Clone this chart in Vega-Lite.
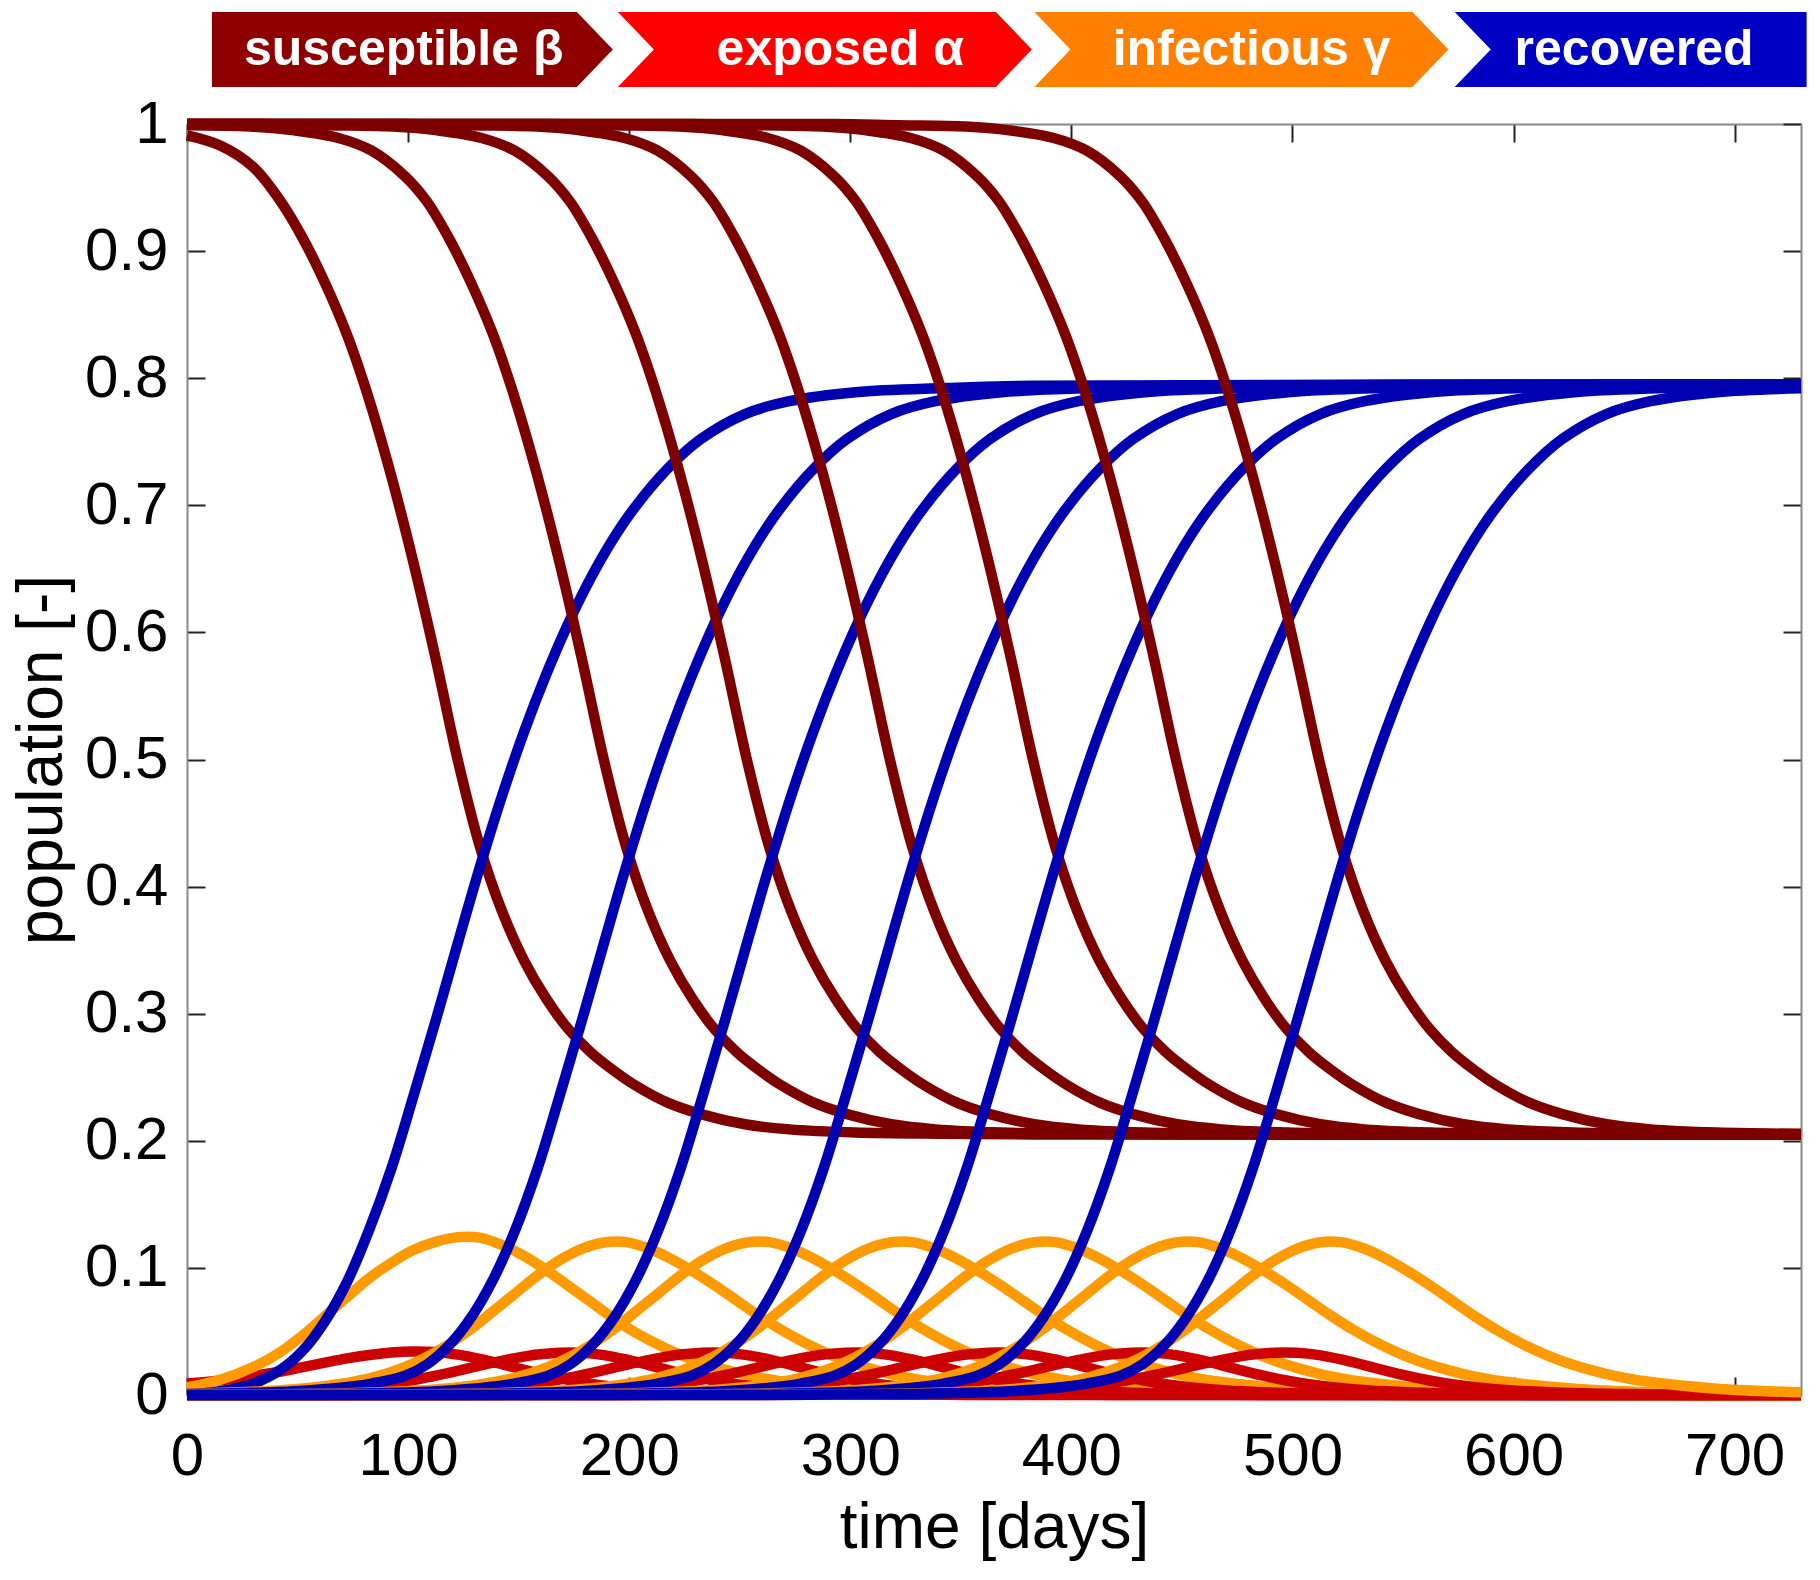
{
"$schema":"https://vega.github.io/schema/vega-lite/v6.json",
"width":1614,"height":1271,
"autosize":{"type":"none"},
"padding":{"left":187,"top":124,"right":19,"bottom":185},
"background":"white",
"config":{"view":{"stroke":null},"font":"Liberation Sans"},
"resolve":{"scale":{"color":"independent","shape":"independent"},"axis":{"x":"independent","y":"independent"}},
"layer":[
{
"data":{"values":[
{"run":1,"t":0,"S":0.991,"E":0.009,"I":0.006,"R":0},
{"run":1,"t":15,"S":0.983,"E":0.0115,"I":0.012,"R":0.003},
{"run":1,"t":30,"S":0.966,"E":0.015,"I":0.022,"R":0.009},
{"run":1,"t":42.4,"S":0.939,"E":0.0185,"I":0.034,"R":0.020},
{"run":1,"t":52.4,"S":0.910,"E":0.022,"I":0.047,"R":0.035},
{"run":1,"t":62.4,"S":0.875,"E":0.0255,"I":0.062,"R":0.058},
{"run":1,"t":72.4,"S":0.834,"E":0.0288,"I":0.077,"R":0.089},
{"run":1,"t":82.4,"S":0.783,"E":0.0315,"I":0.092,"R":0.130},
{"run":1,"t":92.4,"S":0.723,"E":0.0335,"I":0.104,"R":0.178},
{"run":1,"t":102.4,"S":0.655,"E":0.0343,"I":0.114,"R":0.235},
{"run":1,"t":112.4,"S":0.580,"E":0.0338,"I":0.1205,"R":0.294},
{"run":1,"t":122.4,"S":0.500,"E":0.0318,"I":0.1242,"R":0.355},
{"run":1,"t":132.4,"S":0.432,"E":0.0285,"I":0.1238,"R":0.415},
{"run":1,"t":142.4,"S":0.381,"E":0.0243,"I":0.118,"R":0.471},
{"run":1,"t":152.4,"S":0.342,"E":0.0198,"I":0.1095,"R":0.5215},
{"run":1,"t":162.4,"S":0.312,"E":0.0156,"I":0.0985,"R":0.5666},
{"run":1,"t":172.4,"S":0.288,"E":0.0119,"I":0.086,"R":0.6068},
{"run":1,"t":182.4,"S":0.270,"E":0.0089,"I":0.0735,"R":0.6421},
{"run":1,"t":192.4,"S":0.256,"E":0.0066,"I":0.061,"R":0.6725},
{"run":1,"t":202.4,"S":0.244,"E":0.0048,"I":0.0495,"R":0.698},
{"run":1,"t":217.4,"S":0.230,"E":0.0031,"I":0.036,"R":0.7288},
{"run":1,"t":232.4,"S":0.221,"E":0.0019,"I":0.0255,"R":0.7521},
{"run":1,"t":252.4,"S":0.213,"E":0.001,"I":0.016,"R":0.7718},
{"run":1,"t":272.4,"S":0.209,"E":0.0005,"I":0.0098,"R":0.7819},
{"run":1,"t":302.4,"S":0.2065,"E":0.0002,"I":0.0048,"R":0.789},
{"run":1,"t":342.4,"S":0.2055,"E":0.0001,"I":0.0019,"R":0.7922},
{"run":1,"t":382.4,"S":0.205,"E":0,"I":0.0007,"R":0.794},
{"run":1,"t":730,"S":0.205,"E":0,"I":0,"R":0.795},

{"run":2,"t":0,"S":0.999,"E":0.0005,"I":0.001,"R":0.0007},
{"run":2,"t":28.5,"S":0.998,"E":0.0013,"I":0.0025,"R":0.0017},
{"run":2,"t":48.5,"S":0.995,"E":0.0025,"I":0.0045,"R":0.003},
{"run":2,"t":68.5,"S":0.989,"E":0.0045,"I":0.0085,"R":0.0055},
{"run":2,"t":83.5,"S":0.979,"E":0.0068,"I":0.0135,"R":0.009},
{"run":2,"t":98.5,"S":0.959,"E":0.0105,"I":0.022,"R":0.015},
{"run":2,"t":108.5,"S":0.939,"E":0.0138,"I":0.030,"R":0.024},
{"run":2,"t":118.5,"S":0.910,"E":0.0175,"I":0.040,"R":0.039},
{"run":2,"t":128.5,"S":0.875,"E":0.0215,"I":0.052,"R":0.061},
{"run":2,"t":138.5,"S":0.834,"E":0.0255,"I":0.066,"R":0.091},
{"run":2,"t":148.5,"S":0.783,"E":0.029,"I":0.080,"R":0.130},
{"run":2,"t":158.5,"S":0.723,"E":0.0318,"I":0.094,"R":0.178},
{"run":2,"t":168.5,"S":0.655,"E":0.0333,"I":0.106,"R":0.235},
{"run":2,"t":178.5,"S":0.580,"E":0.0332,"I":0.115,"R":0.294},
{"run":2,"t":188.5,"S":0.500,"E":0.0314,"I":0.120,"R":0.355},
{"run":2,"t":198.5,"S":0.432,"E":0.028,"I":0.1203,"R":0.415},
{"run":2,"t":208.5,"S":0.381,"E":0.0237,"I":0.1155,"R":0.471},
{"run":2,"t":218.5,"S":0.342,"E":0.0192,"I":0.1075,"R":0.5215},
{"run":2,"t":228.5,"S":0.312,"E":0.015,"I":0.0975,"R":0.5666},
{"run":2,"t":238.5,"S":0.288,"E":0.0114,"I":0.0865,"R":0.6068},
{"run":2,"t":248.5,"S":0.270,"E":0.0085,"I":0.0745,"R":0.6421},
{"run":2,"t":258.5,"S":0.256,"E":0.0063,"I":0.0625,"R":0.6725},
{"run":2,"t":268.5,"S":0.244,"E":0.0046,"I":0.0515,"R":0.698},
{"run":2,"t":283.5,"S":0.230,"E":0.0029,"I":0.0375,"R":0.7288},
{"run":2,"t":298.5,"S":0.221,"E":0.0018,"I":0.0265,"R":0.7521},
{"run":2,"t":318.5,"S":0.213,"E":0.001,"I":0.0165,"R":0.7718},
{"run":2,"t":338.5,"S":0.209,"E":0.0005,"I":0.0102,"R":0.7819},
{"run":2,"t":368.5,"S":0.2065,"E":0.0002,"I":0.005,"R":0.789},
{"run":2,"t":408.5,"S":0.2055,"E":0.0001,"I":0.002,"R":0.7922},
{"run":2,"t":448.5,"S":0.205,"E":0,"I":0.0008,"R":0.794},
{"run":2,"t":730,"S":0.205,"E":0,"I":0,"R":0.795},

{"run":3,"t":0,"S":1.0,"E":0,"I":0.0001,"R":0},
{"run":3,"t":33.2,"S":1.0,"E":0.0002,"I":0.0004,"R":0.0003},
{"run":3,"t":63.2,"S":0.999,"E":0.0005,"I":0.001,"R":0.0007},
{"run":3,"t":93.2,"S":0.998,"E":0.0013,"I":0.0025,"R":0.0017},
{"run":3,"t":113.2,"S":0.995,"E":0.0025,"I":0.0045,"R":0.003},
{"run":3,"t":133.2,"S":0.989,"E":0.0045,"I":0.0085,"R":0.0055},
{"run":3,"t":148.2,"S":0.979,"E":0.0068,"I":0.0135,"R":0.009},
{"run":3,"t":163.2,"S":0.959,"E":0.0105,"I":0.022,"R":0.015},
{"run":3,"t":173.2,"S":0.939,"E":0.0138,"I":0.030,"R":0.024},
{"run":3,"t":183.2,"S":0.910,"E":0.0175,"I":0.040,"R":0.039},
{"run":3,"t":193.2,"S":0.875,"E":0.0215,"I":0.052,"R":0.061},
{"run":3,"t":203.2,"S":0.834,"E":0.0255,"I":0.066,"R":0.091},
{"run":3,"t":213.2,"S":0.783,"E":0.029,"I":0.080,"R":0.130},
{"run":3,"t":223.2,"S":0.723,"E":0.0318,"I":0.094,"R":0.178},
{"run":3,"t":233.2,"S":0.655,"E":0.0333,"I":0.106,"R":0.235},
{"run":3,"t":243.2,"S":0.580,"E":0.0332,"I":0.115,"R":0.294},
{"run":3,"t":253.2,"S":0.500,"E":0.0314,"I":0.120,"R":0.355},
{"run":3,"t":263.2,"S":0.432,"E":0.028,"I":0.1203,"R":0.415},
{"run":3,"t":273.2,"S":0.381,"E":0.0237,"I":0.1155,"R":0.471},
{"run":3,"t":283.2,"S":0.342,"E":0.0192,"I":0.1075,"R":0.5215},
{"run":3,"t":293.2,"S":0.312,"E":0.015,"I":0.0975,"R":0.5666},
{"run":3,"t":303.2,"S":0.288,"E":0.0114,"I":0.0865,"R":0.6068},
{"run":3,"t":313.2,"S":0.270,"E":0.0085,"I":0.0745,"R":0.6421},
{"run":3,"t":323.2,"S":0.256,"E":0.0063,"I":0.0625,"R":0.6725},
{"run":3,"t":333.2,"S":0.244,"E":0.0046,"I":0.0515,"R":0.698},
{"run":3,"t":348.2,"S":0.230,"E":0.0029,"I":0.0375,"R":0.7288},
{"run":3,"t":363.2,"S":0.221,"E":0.0018,"I":0.0265,"R":0.7521},
{"run":3,"t":383.2,"S":0.213,"E":0.001,"I":0.0165,"R":0.7718},
{"run":3,"t":403.2,"S":0.209,"E":0.0005,"I":0.0102,"R":0.7819},
{"run":3,"t":433.2,"S":0.2065,"E":0.0002,"I":0.005,"R":0.789},
{"run":3,"t":473.2,"S":0.2055,"E":0.0001,"I":0.002,"R":0.7922},
{"run":3,"t":513.2,"S":0.205,"E":0,"I":0.0008,"R":0.794},
{"run":3,"t":730,"S":0.205,"E":0,"I":0,"R":0.795},

{"run":4,"t":0,"S":1.0,"E":0,"I":0,"R":0},
{"run":4,"t":57.9,"S":1.0,"E":0,"I":0.0001,"R":0},
{"run":4,"t":97.9,"S":1.0,"E":0.0002,"I":0.0004,"R":0.0003},
{"run":4,"t":127.9,"S":0.999,"E":0.0005,"I":0.001,"R":0.0007},
{"run":4,"t":157.9,"S":0.998,"E":0.0013,"I":0.0025,"R":0.0017},
{"run":4,"t":177.9,"S":0.995,"E":0.0025,"I":0.0045,"R":0.003},
{"run":4,"t":197.9,"S":0.989,"E":0.0045,"I":0.0085,"R":0.0055},
{"run":4,"t":212.9,"S":0.979,"E":0.0068,"I":0.0135,"R":0.009},
{"run":4,"t":227.9,"S":0.959,"E":0.0105,"I":0.022,"R":0.015},
{"run":4,"t":237.9,"S":0.939,"E":0.0138,"I":0.030,"R":0.024},
{"run":4,"t":247.9,"S":0.910,"E":0.0175,"I":0.040,"R":0.039},
{"run":4,"t":257.9,"S":0.875,"E":0.0215,"I":0.052,"R":0.061},
{"run":4,"t":267.9,"S":0.834,"E":0.0255,"I":0.066,"R":0.091},
{"run":4,"t":277.9,"S":0.783,"E":0.029,"I":0.080,"R":0.130},
{"run":4,"t":287.9,"S":0.723,"E":0.0318,"I":0.094,"R":0.178},
{"run":4,"t":297.9,"S":0.655,"E":0.0333,"I":0.106,"R":0.235},
{"run":4,"t":307.9,"S":0.580,"E":0.0332,"I":0.115,"R":0.294},
{"run":4,"t":317.9,"S":0.500,"E":0.0314,"I":0.120,"R":0.355},
{"run":4,"t":327.9,"S":0.432,"E":0.028,"I":0.1203,"R":0.415},
{"run":4,"t":337.9,"S":0.381,"E":0.0237,"I":0.1155,"R":0.471},
{"run":4,"t":347.9,"S":0.342,"E":0.0192,"I":0.1075,"R":0.5215},
{"run":4,"t":357.9,"S":0.312,"E":0.015,"I":0.0975,"R":0.5666},
{"run":4,"t":367.9,"S":0.288,"E":0.0114,"I":0.0865,"R":0.6068},
{"run":4,"t":377.9,"S":0.270,"E":0.0085,"I":0.0745,"R":0.6421},
{"run":4,"t":387.9,"S":0.256,"E":0.0063,"I":0.0625,"R":0.6725},
{"run":4,"t":397.9,"S":0.244,"E":0.0046,"I":0.0515,"R":0.698},
{"run":4,"t":412.9,"S":0.230,"E":0.0029,"I":0.0375,"R":0.7288},
{"run":4,"t":427.9,"S":0.221,"E":0.0018,"I":0.0265,"R":0.7521},
{"run":4,"t":447.9,"S":0.213,"E":0.001,"I":0.0165,"R":0.7718},
{"run":4,"t":467.9,"S":0.209,"E":0.0005,"I":0.0102,"R":0.7819},
{"run":4,"t":497.9,"S":0.2065,"E":0.0002,"I":0.005,"R":0.789},
{"run":4,"t":537.9,"S":0.2055,"E":0.0001,"I":0.002,"R":0.7922},
{"run":4,"t":577.9,"S":0.205,"E":0,"I":0.0008,"R":0.794},
{"run":4,"t":730,"S":0.205,"E":0,"I":0,"R":0.795},

{"run":5,"t":0,"S":1.0,"E":0,"I":0,"R":0},
{"run":5,"t":122.6,"S":1.0,"E":0,"I":0.0001,"R":0},
{"run":5,"t":162.6,"S":1.0,"E":0.0002,"I":0.0004,"R":0.0003},
{"run":5,"t":192.6,"S":0.999,"E":0.0005,"I":0.001,"R":0.0007},
{"run":5,"t":222.6,"S":0.998,"E":0.0013,"I":0.0025,"R":0.0017},
{"run":5,"t":242.6,"S":0.995,"E":0.0025,"I":0.0045,"R":0.003},
{"run":5,"t":262.6,"S":0.989,"E":0.0045,"I":0.0085,"R":0.0055},
{"run":5,"t":277.6,"S":0.979,"E":0.0068,"I":0.0135,"R":0.009},
{"run":5,"t":292.6,"S":0.959,"E":0.0105,"I":0.022,"R":0.015},
{"run":5,"t":302.6,"S":0.939,"E":0.0138,"I":0.030,"R":0.024},
{"run":5,"t":312.6,"S":0.910,"E":0.0175,"I":0.040,"R":0.039},
{"run":5,"t":322.6,"S":0.875,"E":0.0215,"I":0.052,"R":0.061},
{"run":5,"t":332.6,"S":0.834,"E":0.0255,"I":0.066,"R":0.091},
{"run":5,"t":342.6,"S":0.783,"E":0.029,"I":0.080,"R":0.130},
{"run":5,"t":352.6,"S":0.723,"E":0.0318,"I":0.094,"R":0.178},
{"run":5,"t":362.6,"S":0.655,"E":0.0333,"I":0.106,"R":0.235},
{"run":5,"t":372.6,"S":0.580,"E":0.0332,"I":0.115,"R":0.294},
{"run":5,"t":382.6,"S":0.500,"E":0.0314,"I":0.120,"R":0.355},
{"run":5,"t":392.6,"S":0.432,"E":0.028,"I":0.1203,"R":0.415},
{"run":5,"t":402.6,"S":0.381,"E":0.0237,"I":0.1155,"R":0.471},
{"run":5,"t":412.6,"S":0.342,"E":0.0192,"I":0.1075,"R":0.5215},
{"run":5,"t":422.6,"S":0.312,"E":0.015,"I":0.0975,"R":0.5666},
{"run":5,"t":432.6,"S":0.288,"E":0.0114,"I":0.0865,"R":0.6068},
{"run":5,"t":442.6,"S":0.270,"E":0.0085,"I":0.0745,"R":0.6421},
{"run":5,"t":452.6,"S":0.256,"E":0.0063,"I":0.0625,"R":0.6725},
{"run":5,"t":462.6,"S":0.244,"E":0.0046,"I":0.0515,"R":0.698},
{"run":5,"t":477.6,"S":0.230,"E":0.0029,"I":0.0375,"R":0.7288},
{"run":5,"t":492.6,"S":0.221,"E":0.0018,"I":0.0265,"R":0.7521},
{"run":5,"t":512.6,"S":0.213,"E":0.001,"I":0.0165,"R":0.7718},
{"run":5,"t":532.6,"S":0.209,"E":0.0005,"I":0.0102,"R":0.7819},
{"run":5,"t":562.6,"S":0.2065,"E":0.0002,"I":0.005,"R":0.789},
{"run":5,"t":602.6,"S":0.2055,"E":0.0001,"I":0.002,"R":0.7922},
{"run":5,"t":642.6,"S":0.205,"E":0,"I":0.0008,"R":0.794},
{"run":5,"t":730,"S":0.205,"E":0,"I":0.0001,"R":0.795},

{"run":6,"t":0,"S":1.0,"E":0,"I":0,"R":0},
{"run":6,"t":187.3,"S":1.0,"E":0,"I":0.0001,"R":0},
{"run":6,"t":227.3,"S":1.0,"E":0.0002,"I":0.0004,"R":0.0003},
{"run":6,"t":257.3,"S":0.999,"E":0.0005,"I":0.001,"R":0.0007},
{"run":6,"t":287.3,"S":0.998,"E":0.0013,"I":0.0025,"R":0.0017},
{"run":6,"t":307.3,"S":0.995,"E":0.0025,"I":0.0045,"R":0.003},
{"run":6,"t":327.3,"S":0.989,"E":0.0045,"I":0.0085,"R":0.0055},
{"run":6,"t":342.3,"S":0.979,"E":0.0068,"I":0.0135,"R":0.009},
{"run":6,"t":357.3,"S":0.959,"E":0.0105,"I":0.022,"R":0.015},
{"run":6,"t":367.3,"S":0.939,"E":0.0138,"I":0.030,"R":0.024},
{"run":6,"t":377.3,"S":0.910,"E":0.0175,"I":0.040,"R":0.039},
{"run":6,"t":387.3,"S":0.875,"E":0.0215,"I":0.052,"R":0.061},
{"run":6,"t":397.3,"S":0.834,"E":0.0255,"I":0.066,"R":0.091},
{"run":6,"t":407.3,"S":0.783,"E":0.029,"I":0.080,"R":0.130},
{"run":6,"t":417.3,"S":0.723,"E":0.0318,"I":0.094,"R":0.178},
{"run":6,"t":427.3,"S":0.655,"E":0.0333,"I":0.106,"R":0.235},
{"run":6,"t":437.3,"S":0.580,"E":0.0332,"I":0.115,"R":0.294},
{"run":6,"t":447.3,"S":0.500,"E":0.0314,"I":0.120,"R":0.355},
{"run":6,"t":457.3,"S":0.432,"E":0.028,"I":0.1203,"R":0.415},
{"run":6,"t":467.3,"S":0.381,"E":0.0237,"I":0.1155,"R":0.471},
{"run":6,"t":477.3,"S":0.342,"E":0.0192,"I":0.1075,"R":0.5215},
{"run":6,"t":487.3,"S":0.312,"E":0.015,"I":0.0975,"R":0.5666},
{"run":6,"t":497.3,"S":0.288,"E":0.0114,"I":0.0865,"R":0.6068},
{"run":6,"t":507.3,"S":0.270,"E":0.0085,"I":0.0745,"R":0.6421},
{"run":6,"t":517.3,"S":0.256,"E":0.0063,"I":0.0625,"R":0.6725},
{"run":6,"t":527.3,"S":0.244,"E":0.0046,"I":0.0515,"R":0.698},
{"run":6,"t":542.3,"S":0.230,"E":0.0029,"I":0.0375,"R":0.7288},
{"run":6,"t":557.3,"S":0.221,"E":0.0018,"I":0.0265,"R":0.7521},
{"run":6,"t":577.3,"S":0.213,"E":0.001,"I":0.0165,"R":0.7718},
{"run":6,"t":597.3,"S":0.209,"E":0.0005,"I":0.0102,"R":0.7819},
{"run":6,"t":627.3,"S":0.2065,"E":0.0002,"I":0.005,"R":0.789},
{"run":6,"t":667.3,"S":0.2055,"E":0.0001,"I":0.002,"R":0.7922},
{"run":6,"t":707.3,"S":0.205,"E":0,"I":0.0008,"R":0.794},
{"run":6,"t":730,"S":0.205,"E":0,"I":0.0005,"R":0.794},

{"run":7,"t":0,"S":1.0,"E":0,"I":0,"R":0},
{"run":7,"t":252,"S":1.0,"E":0,"I":0.0001,"R":0},
{"run":7,"t":292,"S":1.0,"E":0.0002,"I":0.0004,"R":0.0003},
{"run":7,"t":322,"S":0.999,"E":0.0005,"I":0.001,"R":0.0007},
{"run":7,"t":352,"S":0.998,"E":0.0013,"I":0.0025,"R":0.0017},
{"run":7,"t":372,"S":0.995,"E":0.0025,"I":0.0045,"R":0.003},
{"run":7,"t":392,"S":0.989,"E":0.0045,"I":0.0085,"R":0.0055},
{"run":7,"t":407,"S":0.979,"E":0.0068,"I":0.0135,"R":0.009},
{"run":7,"t":422,"S":0.959,"E":0.0105,"I":0.022,"R":0.015},
{"run":7,"t":432,"S":0.939,"E":0.0138,"I":0.030,"R":0.024},
{"run":7,"t":442,"S":0.910,"E":0.0175,"I":0.040,"R":0.039},
{"run":7,"t":452,"S":0.875,"E":0.0215,"I":0.052,"R":0.061},
{"run":7,"t":462,"S":0.834,"E":0.0255,"I":0.066,"R":0.091},
{"run":7,"t":472,"S":0.783,"E":0.029,"I":0.080,"R":0.130},
{"run":7,"t":482,"S":0.723,"E":0.0318,"I":0.094,"R":0.178},
{"run":7,"t":492,"S":0.655,"E":0.0333,"I":0.106,"R":0.235},
{"run":7,"t":502,"S":0.580,"E":0.0332,"I":0.115,"R":0.294},
{"run":7,"t":512,"S":0.500,"E":0.0314,"I":0.120,"R":0.355},
{"run":7,"t":522,"S":0.432,"E":0.028,"I":0.1203,"R":0.415},
{"run":7,"t":532,"S":0.381,"E":0.0237,"I":0.1155,"R":0.471},
{"run":7,"t":542,"S":0.342,"E":0.0192,"I":0.1075,"R":0.5215},
{"run":7,"t":552,"S":0.312,"E":0.015,"I":0.0975,"R":0.5666},
{"run":7,"t":562,"S":0.288,"E":0.0114,"I":0.0865,"R":0.6068},
{"run":7,"t":572,"S":0.270,"E":0.0085,"I":0.0745,"R":0.6421},
{"run":7,"t":582,"S":0.256,"E":0.0063,"I":0.0625,"R":0.6725},
{"run":7,"t":592,"S":0.244,"E":0.0046,"I":0.0515,"R":0.698},
{"run":7,"t":607,"S":0.230,"E":0.0029,"I":0.0375,"R":0.7288},
{"run":7,"t":622,"S":0.221,"E":0.0018,"I":0.0265,"R":0.7521},
{"run":7,"t":642,"S":0.213,"E":0.001,"I":0.0165,"R":0.7718},
{"run":7,"t":662,"S":0.209,"E":0.0005,"I":0.0102,"R":0.7819},
{"run":7,"t":692,"S":0.2065,"E":0.0002,"I":0.005,"R":0.789},
{"run":7,"t":730,"S":0.2055,"E":0.0001,"I":0.0021,"R":0.792}
]},
"transform":[{"fold":["S","E","I","R"],"as":["key","value"]}],
"mark":{"type":"line","strokeWidth":10.5,"interpolate":"catmull-rom","strokeCap":"butt","strokeJoin":"round"},
"encoding":{
"x":{"field":"t","type":"quantitative","scale":{"domain":[0,730],"nice":false,"zero":false},
"axis":{"orient":"bottom","values":[0,100,200,300,400,500,600,700],"format":"d","grid":false,"labelFontSize":60,"labelColor":"black","labelFont":"Liberation Sans","labelPadding":50,"labelFlush":false,"labelOverlap":false,"tickSize":-18,"tickWidth":2,"tickColor":"#222222","domainColor":"#888888","domainWidth":2,"title":"time [days]","titleFontSize":64,"titleFontWeight":"normal","titleColor":"black","titleFont":"Liberation Sans","titlePadding":10}},
"y":{"field":"value","type":"quantitative","scale":{"domain":[0,1],"nice":false,"zero":false},
"axis":{"orient":"left","values":[0,0.1,0.2,0.3,0.4,0.5,0.6,0.7,0.8,0.9,1],"format":".1~f","grid":false,"labelFontSize":60,"labelColor":"black","labelFont":"Liberation Sans","labelPadding":37,"labelFlush":false,"labelOverlap":false,"tickSize":-18,"tickWidth":2,"tickColor":"#222222","domainColor":"#888888","domainWidth":2,"title":"population [-]","titleFontSize":64,"titleFontWeight":"normal","titleColor":"black","titleFont":"Liberation Sans","titlePadding":10}},
"color":{"field":"key","type":"nominal","scale":{"domain":["S","E","I","R"],"range":["#7d0000","#cc0000","#ff9a00","#0000b0"]},"legend":null},
"detail":{"field":"run","type":"nominal"}
}
},
{
"data":{"values":[
{"part":"susceptible","t":104.9,"value":1.0586},
{"part":"exposed","t":288.5,"value":1.0586},
{"part":"infectious","t":476.9,"value":1.0586},
{"part":"recovered","t":667.0,"value":1.0586}
]},
"mark":{"type":"point","filled":true,"size":171396,"opacity":1,"strokeWidth":0},
"encoding":{
"x":{"field":"t","type":"quantitative","scale":{"domain":[0,730],"nice":false,"zero":false},
"axis":{"orient":"top","values":[0,100,200,300,400,500,600,700],"labels":false,"title":null,"grid":false,"tickSize":-18,"tickWidth":2,"tickColor":"#222222","domainColor":"#888888","domainWidth":2}},
"y":{"field":"value","type":"quantitative","scale":{"domain":[0,1],"nice":false,"zero":false},
"axis":{"orient":"right","values":[0,0.1,0.2,0.3,0.4,0.5,0.6,0.7,0.8,0.9,1],"labels":false,"title":null,"grid":false,"tickSize":-18,"tickWidth":2,"tickColor":"#222222","domainColor":"#888888","domainWidth":2}},
"color":{"field":"part","type":"nominal","scale":{"domain":["susceptible","exposed","infectious","recovered"],"range":["#8e0000","#ff0000","#ff8000","#0000c4"]},"legend":null},
"shape":{"field":"part","type":"nominal","scale":{"domain":["susceptible","exposed","infectious","recovered"],"range":["M-1,-0.181L0.763,-0.181L0.937,0L0.763,0.181L-1,0.181Z","M-1,-0.181L0.826,-0.181L1,0L0.826,0.181L-1,0.181L-0.826,0Z","M-1,-0.181L0.826,-0.181L1,0L0.826,0.181L-1,0.181L-0.826,0Z","M-1,-0.181L0.7,-0.181L0.7,0.181L-1,0.181L-0.826,0Z"]},"legend":null}
}
},
{
"data":{"values":[
{"label":"susceptible β","t":98,"value":1.0586},
{"label":"exposed   α","t":295.5,"value":1.0586},
{"label":"infectious  γ","t":481.5,"value":1.0586},
{"label":"recovered","t":654.5,"value":1.0586}
]},
"mark":{"type":"text","font":"Liberation Sans","fontSize":50,"fontWeight":"bold","color":"white","align":"center","baseline":"middle"},
"encoding":{
"x":{"field":"t","type":"quantitative","scale":{"domain":[0,730],"nice":false,"zero":false},"axis":null},
"y":{"field":"value","type":"quantitative","scale":{"domain":[0,1],"nice":false,"zero":false},"axis":null},
"text":{"field":"label"}
}
}
]
}
